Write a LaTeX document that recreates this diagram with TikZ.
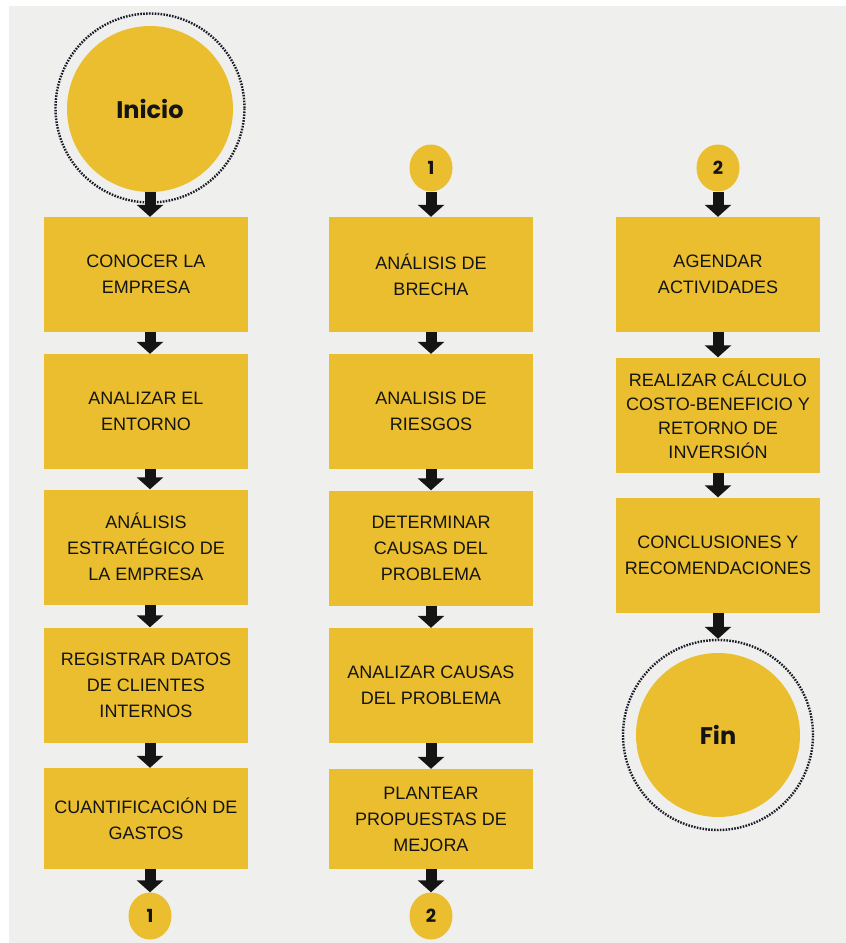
\documentclass[tikz,border=0pt]{standalone}
\usepackage{fontspec}
\setmainfont{Liberation Sans}
\newfontfamily\popfont{Poppins}
\usetikzlibrary{arrows.meta, shapes.geometric}
\definecolor{mostaza}{HTML}{EBBE2F}
\definecolor{fondo}{HTML}{EFEFED}
\definecolor{tinta}{HTML}{141414}
\definecolor{puntos}{HTML}{1A1B28}

\begin{document}
\begin{tikzpicture}[x=1pt, y=-1pt, >={Triangle[width=26pt, length=12pt]},
  paso/.style={fill=mostaza, text=tinta, minimum width=204pt, minimum height=115pt, align=center, inner sep=0pt, font=\fontsize{18}{26}\selectfont},
  extremo/.style={circle, fill=mostaza, text=tinta, minimum size=166pt, inner sep=0pt, font=\popfont\bfseries\fontsize{24}{28}\selectfont},
  anillo/.style={circle, draw=puntos, line width=2.4pt, dash pattern=on 1.6pt off 1.3pt, minimum size=189pt, inner sep=0pt},
  enlace/.style={ellipse, fill=mostaza, text=tinta, minimum width=43pt, minimum height=47pt, inner sep=0pt, font=\popfont\bfseries\fontsize{18}{20}\selectfont},
  flecha/.style={->, line width=11pt, draw=tinta}]
\fill[white] (0,0) rectangle (846,943);
\fill[fondo] (9,6) rectangle (846,943);
\useasboundingbox (0,0) rectangle (846,943);

\node[anillo] (anilloini) at (150,108) {};
\node[extremo] (inicio) at (150,109) {Inicio};
\node[paso] (c11) at (146,274.5) {CONOCER LA\\EMPRESA};
\node[paso] (c12) at (146,411.5) {ANALIZAR EL\\ENTORNO};
\node[paso] (c13) at (146,547) {ANÁLISIS\\ESTRATÉGICO DE\\LA EMPRESA};
\node[paso] (c14) at (146,685) {REGISTRAR DATOS\\DE CLIENTES\\INTERNOS};
\node[paso, minimum height=101pt] (c15) at (146,818.5) {CUANTIFICACIÓN DE\\GASTOS};
\node[enlace] (uno) at (150,916) {1};

\node[enlace] (unob) at (431,168) {1};
\node[paso] (c21) at (431,274.5) {ANÁLISIS DE\\BRECHA};
\node[paso] (c22) at (431,411.5) {ANALISIS DE\\RIESGOS};
\node[paso] (c23) at (431,548) {DETERMINAR\\CAUSAS DEL\\PROBLEMA};
\node[paso] (c24) at (431,685.5) {ANALIZAR CAUSAS\\DEL PROBLEMA};
\node[paso, minimum height=100pt] (c25) at (431,819) {PLANTEAR\\PROPUESTAS DE\\MEJORA};
\node[enlace] (dos) at (431,916) {2};

\node[enlace] (dosb) at (718,168) {2};
\node[paso] (c31) at (718,274.5) {AGENDAR\\ACTIVIDADES};
\node[paso, font=\fontsize{18}{24}\selectfont] (c32) at (718,415) {REALIZAR CÁLCULO\\COSTO-BENEFICIO Y\\RETORNO DE\\INVERSIÓN};
\node[paso] (c33) at (718,555) {CONCLUSIONES Y\\RECOMENDACIONES};
\node[anillo, minimum size=190pt] (anillofin) at (718,735) {};
\node[extremo, minimum size=164pt] (fin) at (718,735) {Fin};

\draw[flecha] (inicio.south) -- (c11.north -| inicio.south);
\draw[flecha] (c11.south -| inicio.south) -- (c12.north -| inicio.south);
\draw[flecha] (c12.south -| inicio.south) -- (c13.north -| inicio.south);
\draw[flecha] (c13.south -| inicio.south) -- (c14.north -| inicio.south);
\draw[flecha] (c14.south -| inicio.south) -- (c15.north -| inicio.south);
\draw[flecha] (c15.south -| uno.north) -- (uno.north);
\draw[flecha] (unob) -- (c21);
\draw[flecha] (c21) -- (c22);
\draw[flecha] (c22) -- (c23);
\draw[flecha] (c23) -- (c24);
\draw[flecha] (c24) -- (c25);
\draw[flecha] (c25) -- (dos);
\draw[flecha] (dosb) -- (c31);
\draw[flecha] (c31) -- (c32);
\draw[flecha] (c32) -- (c33);
\draw[flecha] (c33) -- (anillofin);
\end{tikzpicture}
\end{document}
